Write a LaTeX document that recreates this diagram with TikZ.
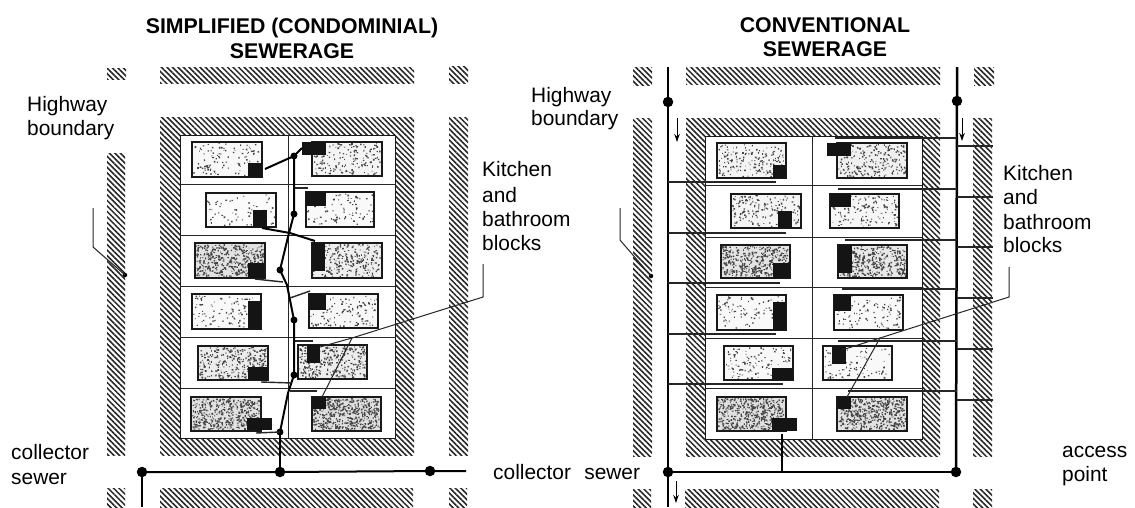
\documentclass[tikz,border=0pt]{standalone}
\usepackage{fontspec}
\setmainfont{Liberation Sans}
\usetikzlibrary{patterns.meta,arrows.meta}
\tikzset{
  hatch/.style={pattern={Lines[angle=-45,distance=3.9pt,line width=1.55pt]},pattern color=black!85},
  inner/.style={fill=white,draw=black!90,line width=1pt},
  rowline/.style={draw=black!85,line width=1pt},
  sewer/.style={draw=black,line width=2pt},
  main/.style={draw=black,line width=2.5pt},
  lateral/.style={draw=black!85,line width=1.4pt},
  leader/.style={draw=black!85,line width=1pt},
  junction/.style={circle,fill=black,inner sep=0pt,minimum size=#1},
  junction/.default=7pt,
  lab/.style={anchor=base west,inner sep=0pt,font=\fontsize{20.9}{25}\selectfont},
  ttl/.style={anchor=base,inner sep=0pt,font=\fontsize{21.3}{25}\selectfont\bfseries},
  flow/.style={draw=black,line width=1pt,-{Stealth[length=8pt,width=5.5pt]}}
}
\newcommand{\hblock}[4]{\fill[hatch] (#1,#2) rectangle (#3,#4);}
% density, house corners, block corners
\def\house#1(#2,#3)(#4,#5)(#6,#7)(#8,#9){%
  \pgfmathsetmacro{\shade}{#1/40}%
  \fill[black!\shade] (#2,#3) rectangle (#4,#5);
  \fill[black!72] foreach \k in {1,...,#1} {
    ({#2+1+(#4-#2-3)*rnd},{#3+1+(#5-#3-3)*rnd}) rectangle ++({0.7+1.1*rnd},{0.7+1.1*rnd})
  };
  \draw[draw=black!90,line width=1.1pt] (#2,#3) rectangle (#4,#5);
  \fill[black!92] (#6,#7) rectangle (#8,#9);
}
\begin{document}
\begin{tikzpicture}[x=1pt,y=-1pt]
\pgfmathsetseed{4711}
\useasboundingbox (0,0) rectangle (1135,507);
\fill[white] (0,0) rectangle (1135,507);

%%%%%%% LEFT PANEL
\node[ttl] (t1) at (292,33) {SIMPLIFIED (CONDOMINIAL)};
\node[ttl] (t1b) at (292,58) {SEWERAGE};
\hblock{107}{68}{126}{79}
\hblock{160}{67}{414}{83}
\hblock{449}{66}{468}{83}
\hblock{107}{153}{125}{455}
\hblock{449}{117}{468}{455}
\hblock{160}{117}{414}{455}
\hblock{107}{488}{125}{507}
\hblock{160}{488}{413}{507}
\hblock{449}{488}{467}{507}
\draw[inner] (180,135) rectangle (395,438);
\foreach \y in {184,235,286,337,388}{\draw[rowline] (180,\y) -- (395,\y);}
\draw[rowline] (288,135) -- (288,438);

\house{110}(192,142)(262,177)(248,163)(262,177)
\house{170}(312,142)(382,176)(302,142)(326,155)
\house{60}(206,193)(276,227)(253,210)(267,227)
\house{90}(306,192)(374,227)(306,192)(326,206)
\house{460}(195,243)(265,278)(248,263)(264,278)
\house{270}(312,243)(382,278)(312,243)(325,271)
\house{100}(192,294)(261,329)(248,301)(261,329)
\house{120}(309,294)(378,328)(309,294)(326,310)
\house{300}(198,346)(268,380)(248,367)(268,380)
\house{290}(298,345)(367,379)(307,345)(320,363)
\house{460}(191,397)(261,431)(247,418)(272,430)
\house{500}(312,397)(381,431)(312,397)(326,409)

% main sewer path
\node[junction=7pt] (a1) at (294,156) {};
\node[junction=7pt] (a2) at (294,214) {};
\coordinate (a3) at (288,237);
\node[junction=7pt] (a4) at (280,270) {};
\coordinate (a5) at (287,285);
\node[junction=7pt] (a6) at (294,320) {};
\node[junction=7pt] (a7) at (294,375) {};
\coordinate (a8) at (288,393);
\node[junction=7pt] (a9) at (280,432) {};
\node[junction=10.5pt] (c1) at (142,472) {};
\node[junction=10.5pt] (c2) at (280,472) {};
\node[junction=10.5pt] (c3) at (430,471) {};
\coordinate (c4) at (466,471);
\coordinate (c5) at (142,507);
\draw[sewer] (c1.center) -- (c2.center) -- (c3.center) -- (c4);
\draw[main] (c1.center) -- (c5);
\draw[main] (c2.center) -- (a9.center);
\draw[sewer] (a9.center) -- (a8) -- (a7.center) -- (a6.center) -- (a5) -- (a4.center) -- (a3) -- (a2.center) -- (a1.center);
% laterals
\draw[sewer] (265,169) -- (a1.center) -- (302,148);
\draw[sewer] (262,228) -- (290,233) -- (315,241);
\draw[lateral] (255,279) -- (283,282);
\draw[lateral] (290,298) -- (310,291);
\draw[lateral] (295,341) -- (313,341);
\draw[lateral] (261,382) -- (292,383);
\draw[lateral] (290,391) -- (317,391);
\draw[lateral] (256,433) -- (a9.center);
\draw[lateral] (295,188) -- (308,188);

% labels & leaders
\node[lab] (h1a) at (27,111) {Highway};
\node[lab] (h1b) at (27,135) {boundary};
\node[junction=4.5pt] (hd1) at (125,275) {};
\draw[leader] (93,208) -- (93,247) -- (hd1.center);
\node[lab] (k1) at (482,176) {Kitchen};
\node[lab] (k2) at (482,202) {and};
\node[lab] (k3) at (482,226) {bathroom};
\node[lab] (k4) at (482,250) {blocks};
\coordinate (ks) at (352,338);
\draw[leader] (483,264) -- (483,297) -- (ks) -- (320,347);
\draw[leader] (ks) -- (322,397);
\node[lab] (cs1) at (11,459) {collector};
\node[lab] (cs2) at (11,484) {sewer};

%%%%%%% RIGHT PANEL
\node[ttl] (t2) at (825,32) {CONVENTIONAL};
\node[ttl] (t2b) at (825,56) {SEWERAGE};
\hblock{633}{67}{652}{85}
\hblock{686}{67}{940}{84}
\hblock{974}{67}{994}{85}
\hblock{633}{118}{652}{456}
\hblock{973}{118}{992}{456}
\hblock{686}{118}{940}{456}
\hblock{633}{489}{651}{507}
\hblock{685}{489}{939}{507}
\hblock{973}{489}{992}{507}
\draw[inner] (705,136) rectangle (922,439);
\foreach \y in {185,237,287,338,388}{\draw[rowline] (705,\y) -- (922,\y);}
\draw[rowline] (812,136) -- (812,439);

\house{170}(717,143)(786,178)(773,165)(786,178)
\house{230}(837,143)(907,178)(827,143)(851,156)
\house{170}(731,194)(801,228)(778,211)(792,228)
\house{140}(830,194)(899,228)(831,194)(851,207)
\house{420}(721,245)(790,278)(773,263)(790,278)
\house{360}(838,245)(907,278)(838,245)(852,273)
\house{100}(717,295)(786,330)(773,302)(786,330)
\house{100}(834,295)(903,330)(834,295)(851,311)
\house{110}(724,346)(793,380)(772,368)(793,380)
\house{90}(823,346)(892,380)(832,346)(846,364)
\house{480}(717,397)(786,431)(772,418)(797,431)
\house{450}(837,397)(907,431)(837,397)(851,409)

\coordinate (m1) at (668,67);
\coordinate (m2) at (668,507);
\coordinate (m3) at (957,67);
\node[junction=10.5pt] (j1) at (668,102) {};
\node[junction=10.5pt] (j2) at (668,472) {};
\node[junction=10.5pt] (j3) at (957,101) {};
\node[junction=10.5pt] (j4) at (956,472) {};
\coordinate (b1) at (782,472);
\coordinate (b2) at (782,434);
\draw[main] (m1) -- (m2);
\draw[main] (m3) -- (j3.center) -- (j4.center);
\draw[sewer] (j2.center) -- (j4.center);
\draw[sewer] (b1) -- (b2);
\draw[flow] (677,118) -- (677,142);
\draw[flow] (962,118) -- (962,141);
\draw[flow] (676,481) -- (676,503);
% left laterals
\foreach \y/\e in {182/776,233/786,283/780,334/776,384/783}{
  \draw[lateral,line width=1.6pt] (668,\y) -- (\e,\y);}
% right laterals
\foreach \y/\e in {138/835,189/838,240/845,289/842,341/838,391/848}{
  \draw[lateral,line width=1.6pt] (957,\y) -- (\e,\y);}
% stubs to the far side
\foreach \y in {146,197,247,298,349,400}{
  \draw[lateral,line width=1.6pt] (957,\y) -- (993,\y);}

\node[lab] (h2a) at (531,102) {Highway};
\node[lab] (h2b) at (531,125) {boundary};
\node[junction=4.5pt] (hd2) at (651,276) {};
\draw[leader] (620,208) -- (620,240) -- (hd2.center);
\node[lab] (k5) at (1003,180) {Kitchen};
\node[lab] (k6) at (1003,204) {and};
\node[lab] (k7) at (1003,229) {bathroom};
\node[lab] (k8) at (1003,252) {blocks};
\coordinate (kr) at (880,338);
\draw[leader] (1009,267) -- (1009,297) -- (kr) -- (842,350);
\draw[leader] (kr) -- (847,397);
\node[lab] (cs3) at (493,479) {collector\hspace{0.36em} sewer};
\node[lab] (ap1) at (1062,457) {access};
\node[lab] (ap2) at (1062,481) {point};
\end{tikzpicture}
\end{document}
